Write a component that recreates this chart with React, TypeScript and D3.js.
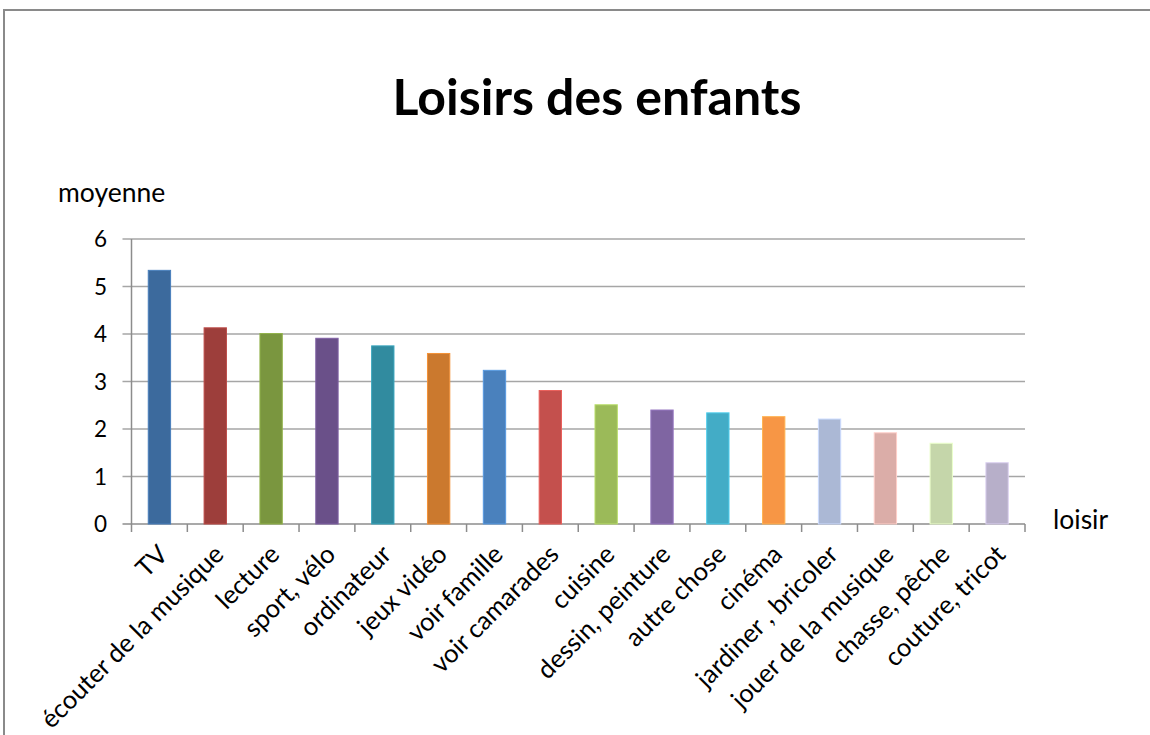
import React from "react";
import * as d3 from "d3";

const categories = [
  "TV",
  "écouter de la musique",
  "lecture",
  "sport, vélo",
  "ordinateur",
  "jeux vidéo",
  "voir famille",
  "voir camarades",
  "cuisine",
  "dessin, peinture",
  "autre chose",
  "cinéma",
  "jardiner , bricoler",
  "jouer de la musique",
  "chasse, pêche",
  "couture, tricot",
];
const values = [5.34, 4.13, 4.01, 3.91, 3.75, 3.59, 3.235, 2.81, 2.51, 2.4, 2.34, 2.26, 2.21, 1.92, 1.7, 1.29];
const colors = [
  "#3C6A9D", "#9D3E3B", "#7A963F", "#6A5089", "#318B9F", "#CB792E",
  "#4A81BD", "#C4504D", "#9BBA59", "#7F65A2", "#43ACC6", "#F79645",
  "#ABB8D5", "#DBADA8", "#C5D6AA", "#B7AFC9",
];
const yTicks = [0, 1, 2, 3, 4, 5, 6];
const title = "Loisirs des enfants";
const yTitle = "moyenne";
const xTitle = "loisir";

const W = 1150;
const H = 735;
const left = 131.5;
const right = 1025;
const top = 239;
const bottom = 524;
const font = "Lato, 'Open Sans', sans-serif";

export default function App() {
  const x = d3.scaleBand<string>().domain(categories).range([left, right]).paddingInner(0.6).paddingOuter(0.3);
  const band = d3.scaleBand<string>().domain(categories).range([left, right]);
  const y = d3.scaleLinear().domain([0, 6]).range([bottom, top]);
  const gridColor = "#A6A6A6";
  const axisColor = "#8C8C8C";

  return (
    <svg width={W} height={H} style={{ position: "absolute", left: 0, top: 0, background: "#fff" }}>
      <rect x={4} y={10} width={W + 20} height={H + 20} fill="#fff" stroke="#8A8A8A" strokeWidth={2} />
      <text x={597} y={115} textAnchor="middle" fontFamily={font} fontWeight={700} fontSize={50} fill="#000">
        {title}
      </text>
      <text x={58} y={202} fontFamily={font} fontSize={26.5} fill="#000">{yTitle}</text>
      <text x={1053} y={529} fontFamily={font} fontSize={26.5} fill="#000">{xTitle}</text>
      {yTicks.map((t) => (
        <g key={t}>
          <line x1={left - 9} x2={right} y1={y(t)} y2={y(t)} stroke={t === 0 ? axisColor : gridColor} strokeWidth={1.5} />
          <text x={107} y={y(t) + 8} textAnchor="end" fontFamily={font} fontSize={22.5} fill="#000">{t}</text>
        </g>
      ))}
      <line x1={left} x2={left} y1={top} y2={bottom + 8} stroke={axisColor} strokeWidth={1.5} />
      {categories.map((c) => (
        <line key={"t" + c} x1={(band(c) as number) + band.bandwidth()} x2={(band(c) as number) + band.bandwidth()} y1={bottom} y2={bottom + 8} stroke={axisColor} strokeWidth={1.5} />
      ))}
      {categories.map((c, i) => (
        <rect
          key={c}
          x={x(c)}
          y={y(values[i])}
          width={x.bandwidth()}
          height={y(0) - y(values[i])}
          fill={colors[i]}
          stroke={d3.color(colors[i])!.brighter(0.5).formatHex()}
          strokeWidth={1}
        />
      ))}
      {categories.map((c) => {
        const cx = (band(c) as number) + band.bandwidth() / 2 + 10;
        const cy = bottom + 32;
        return (
          <text
            key={"l" + c}
            x={cx}
            y={cy}
            transform={`rotate(-45 ${cx} ${cy})`}
            textAnchor="end"
            fontFamily={font}
            fontSize={25.5}
            fill="#000"
          >
            {c}
          </text>
        );
      })}
    </svg>
  );
}
